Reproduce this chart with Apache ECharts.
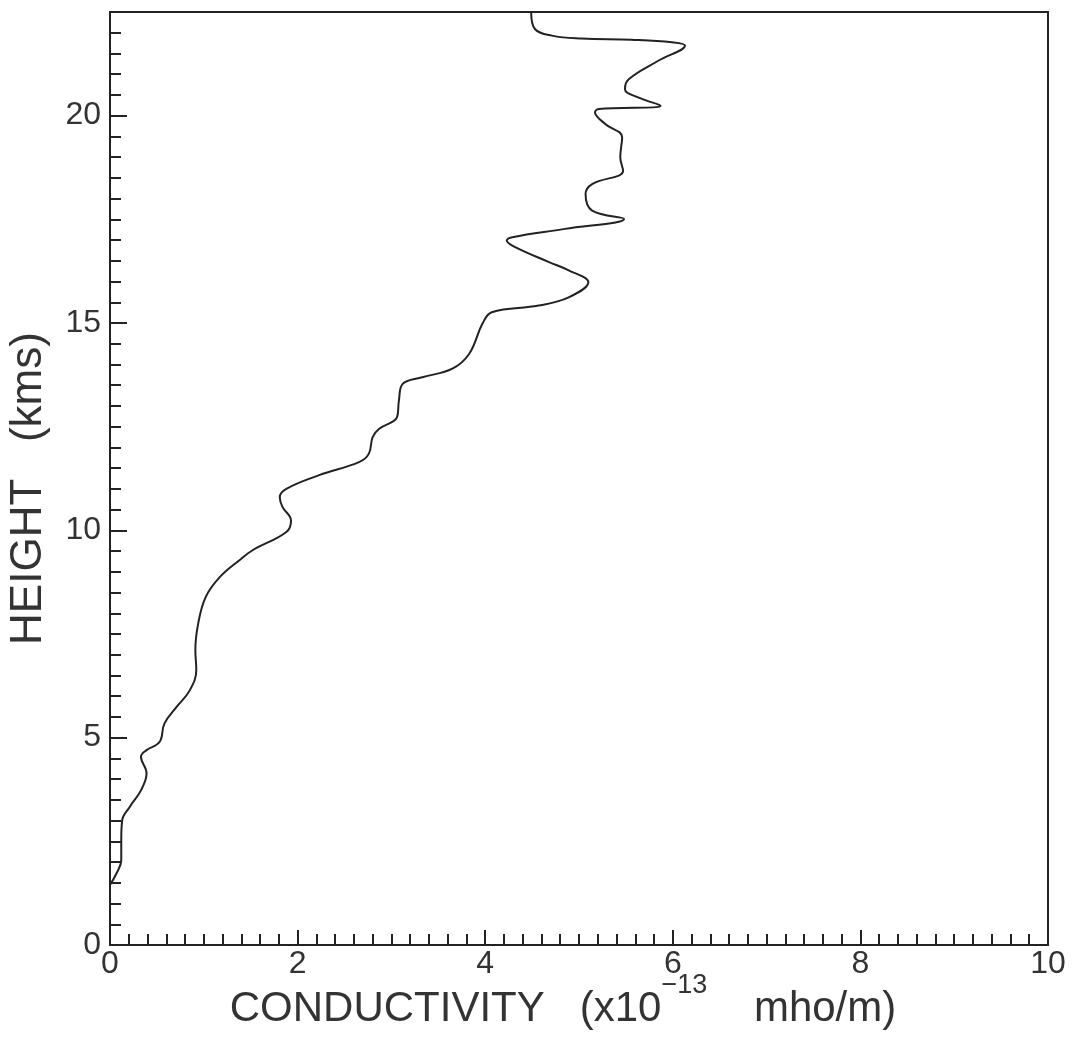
<!DOCTYPE html>
<html><head><meta charset="utf-8">
<script src="https://cdn.jsdelivr.net/npm/echarts@6/dist/echarts.min.js"></script>
<style>html,body{margin:0;padding:0;background:#fff}#c{width:1082px;height:1043px}</style>
</head><body><div id="c"></div>
<script>
// Height (km) and conductivity (x10^-13 mho/m)
const heights = [1.45,1.73,2.05,2.53,3.01,3.33,3.73,4.14,4.54,4.70,4.90,5.34,5.74,6.14,6.63,7.11,7.75,8.39,8.87,9.28,9.52,9.96,10.24,10.56,10.80,11.00,11.33,11.65,11.85,12.25,12.45,12.73,13.13,13.53,13.69,13.90,14.26,14.98,15.26,15.42,15.62,15.98,16.27,16.47,16.83,16.99,17.07,17.27,17.51,17.71,18.11,18.35,18.67,19.00,19.48,19.80,20.08,20.16,20.24,20.44,20.64,20.88,21.33,21.69,21.77,21.83,21.86,21.93,22.09,22.50];
const conductivity = [0.00,0.07,0.12,0.12,0.13,0.21,0.33,0.39,0.33,0.39,0.53,0.58,0.71,0.85,0.92,0.91,0.94,1.02,1.17,1.38,1.52,1.88,1.93,1.84,1.81,1.88,2.23,2.66,2.76,2.80,2.87,3.06,3.08,3.12,3.33,3.65,3.83,3.97,4.07,4.57,4.89,5.10,4.89,4.68,4.32,4.23,4.29,4.85,5.48,5.14,5.07,5.14,5.47,5.44,5.46,5.28,5.17,5.21,5.87,5.63,5.49,5.53,5.85,6.13,5.99,5.56,5.03,4.71,4.53,4.49];
const xTickLabels = [0,2,4,6,8,10];
const yTickLabels = [0,5,10,15,20];
const xTitle = ['CONDUCTIVITY   (x10', '\u221213', '    mho/m)'];
const yTitle = 'HEIGHT   (kms)';

const FONT = '"Liberation Sans", Arial, sans-serif';
const INK = '#222';
const chart = echarts.init(document.getElementById('c'), null, {renderer: 'canvas'});
const data = heights.map((h, i) => [conductivity[i], h]);
const near = (v, list) => list.some(t => Math.abs(v - t) < 1e-6);

chart.setOption({
  animation: false,
  backgroundColor: '#fff',
  grid: {left: 110, right: 34, top: 12, bottom: 98, containLabel: false, outerBoundsMode: 'none',
    show: true, borderColor: INK, borderWidth: 2, backgroundColor: 'transparent'},
  xAxis: {
    type: 'value', min: 0, max: 10, interval: 2,
    axisLine: {show: true, lineStyle: {color: INK, width: 2}},
    axisTick: {show: true, inside: true, length: 15, lineStyle: {color: INK, width: 2}},
    minorTick: {show: true, splitNumber: 10, length: 11, lineStyle: {color: INK, width: 2}},
    splitLine: {show: false},
    axisLabel: {margin: 3, fontSize: 32, fontFamily: FONT, color: '#333',
      formatter: v => near(v, xTickLabels) ? String(Math.round(v)) : ''},
    name: '{a|' + xTitle[0] + '}{s|' + xTitle[1] + '}{a|' + xTitle[2] + '}',
    nameLocation: 'middle', nameGap: 41, nameMoveOverlap: false,
    nameTextStyle: {
      padding: [0, 32, 0, 0],
      rich: {
        a: {fontSize: 42, fontFamily: FONT, color: '#333', lineHeight: 46},
        s: {fontSize: 27, fontFamily: FONT, color: '#333', lineHeight: 24, padding: [0, 0, 46, 0]}
      }
    }
  },
  yAxis: [{
    type: 'value', min: 0, max: 22.5, interval: 0.5,
    axisLine: {show: true, lineStyle: {color: INK, width: 2}},
    axisTick: {show: true, inside: true, length: 11, lineStyle: {color: INK, width: 2}},
    splitLine: {show: false},
    axisLabel: {margin: 9, fontSize: 32, fontFamily: FONT, color: '#333',
      formatter: v => near(v, yTickLabels) ? String(Math.round(v)) : ''},
    name: yTitle, nameLocation: 'middle', nameGap: 59, nameMoveOverlap: false,
    nameTextStyle: {fontSize: 44, fontFamily: FONT, color: '#333', padding: [0, 20, 0, 0]}
  }, {
    type: 'value', min: 0, max: 22.5, interval: 5, position: 'left',
    axisLine: {show: false},
    axisTick: {show: true, inside: true, length: 17, lineStyle: {color: INK, width: 2}},
    axisLabel: {show: false}, splitLine: {show: false}
  }],
  series: [{
    type: 'line', xAxisIndex: 0, yAxisIndex: 0, data: data,
    smooth: 0.4, showSymbol: false, symbol: 'none',
    lineStyle: {color: INK, width: 2}
  }]
});
</script></body></html>
